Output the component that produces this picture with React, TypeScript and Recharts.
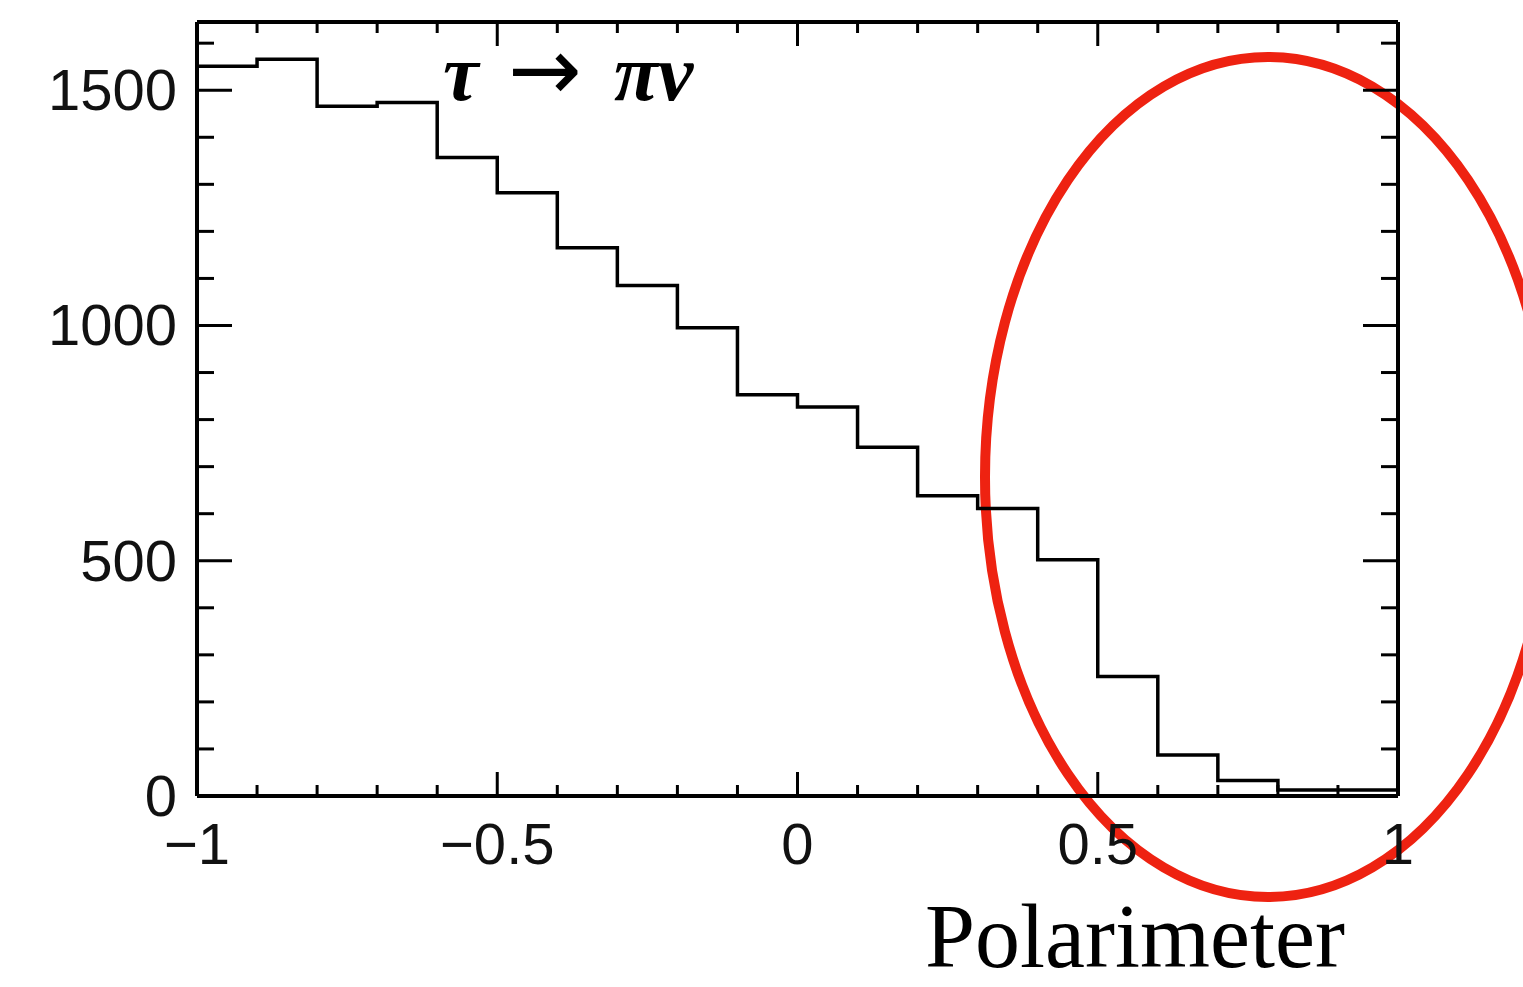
import React from 'react';
import { Customized, Line, LineChart, XAxis, YAxis } from 'recharts';

// histogram of cos(theta)-like variable, 20 bins of width 0.1
const binEdges = [-1, -0.9, -0.8, -0.7, -0.6, -0.5, -0.4, -0.3, -0.2, -0.1, 0, 0.1, 0.2, 0.3, 0.4, 0.5, 0.6, 0.7, 0.8, 0.9];
const counts = [1551, 1566, 1466, 1474, 1357, 1282, 1165, 1085, 995, 853, 827, 741, 638, 611, 502, 254, 87, 33, 13, 13];
const xEnd = 1;

const xAllTicks = [-1, -0.9, -0.8, -0.7, -0.6, -0.5, -0.4, -0.3, -0.2, -0.1, 0, 0.1, 0.2, 0.3, 0.4, 0.5, 0.6, 0.7, 0.8, 0.9, 1];
const xMajorTicks = [-1, -0.5, 0, 0.5, 1];
const yAllTicks = [0, 100, 200, 300, 400, 500, 600, 700, 800, 900, 1000, 1100, 1200, 1300, 1400, 1500, 1600];
const yMajorTicks = [0, 500, 1000, 1500];
const yMax = 1645;

const processLabel = ['τ ', '→ ', 'πν'];
const noteLabel = 'Polarimeter';

const histData = [
  ...binEdges.map((x, i) => ({ x, count: counts[i] })),
  { x: xEnd, count: counts[counts.length - 1] },
];

const sansFont = '"Liberation Sans", Arial, Helvetica, sans-serif';
const serifFont = '"Liberation Serif", "Times New Roman", serif';

function fmt(v: number) {
  return v < 0 ? `\u2212${Math.abs(v)}` : `${v}`;
}

const BottomTick = (props: any) => {
  const { x, y, payload } = props;
  const major = xMajorTicks.includes(payload.value);
  return (
    <g>
      <line x1={x} x2={x} y1={y} y2={y - (major ? 24 : 11)} stroke="#000" strokeWidth={3} />
      {major && (
        <text x={x} y={y + 68} textAnchor="middle" fontSize={58} fontFamily={sansFont} fill="#111">
          {fmt(payload.value)}
        </text>
      )}
    </g>
  );
};

const TopTick = (props: any) => {
  const { x, y, payload } = props;
  const major = xMajorTicks.includes(payload.value);
  return <line x1={x} x2={x} y1={y} y2={y + (major ? 24 : 11)} stroke="#000" strokeWidth={3} />;
};

const LeftTick = (props: any) => {
  const { x, y, payload } = props;
  const major = yMajorTicks.includes(payload.value);
  return (
    <g>
      <line x1={x} x2={x + (major ? 35 : 17)} y1={y} y2={y} stroke="#000" strokeWidth={3} />
      {major && (
        <text x={x - 20} y={y + 20} textAnchor="end" fontSize={58} fontFamily={sansFont} fill="#111">
          {fmt(payload.value)}
        </text>
      )}
    </g>
  );
};

const RightTick = (props: any) => {
  const { x, y, payload } = props;
  const major = yMajorTicks.includes(payload.value);
  return <line x1={x} x2={x - (major ? 35 : 17)} y1={y} y2={y} stroke="#000" strokeWidth={3} />;
};

const Annotations = () => (
  <g>
    <text y={100} fontFamily={serifFont} fontSize={80} fontWeight="bold" fontStyle="italic" fill="#000">
      <tspan x={443}>{processLabel[0]}</tspan>
      <tspan x={508} fontFamily='"DejaVu Sans", sans-serif' fontSize={88} fontStyle="normal" fontWeight="normal">
        {processLabel[1]}
      </tspan>
      <tspan x={614}>{processLabel[2]}</tspan>
    </text>
    <ellipse cx={1268} cy={477} rx={283} ry={420} fill="none" stroke="#EE2211" strokeWidth={10} />
    <text x={925} y={967} fontFamily={serifFont} fontSize={90} fill="#000">
      {noteLabel}
    </text>
  </g>
);

export default function App() {
  return (
    <div style={{ position: 'absolute', left: 0, top: 0, width: 1523, height: 987, background: '#fff' }}>
      <LineChart
        width={1523}
        height={987}
        data={histData}
        margin={{ top: 21, right: 124, bottom: 0, left: 0 }}
      >
        <XAxis
          dataKey="x"
          type="number"
          domain={[-1, 1]}
          ticks={xAllTicks}
          interval={0}
          height={191}
          tickSize={0}
          tickMargin={0}
          tickLine={false}
          axisLine={{ stroke: '#000', strokeWidth: 4 }}
          tick={<BottomTick />}
          allowDataOverflow
        />
        <XAxis
          xAxisId="top"
          orientation="top"
          dataKey="x"
          type="number"
          domain={[-1, 1]}
          ticks={xAllTicks}
          interval={0}
          height={1}
          tickSize={0}
          tickMargin={0}
          tickLine={false}
          axisLine={{ stroke: '#000', strokeWidth: 4 }}
          tick={<TopTick />}
          allowDataOverflow
        />
        <YAxis
          type="number"
          domain={[0, yMax]}
          ticks={yAllTicks}
          interval={0}
          width={197}
          tickSize={0}
          tickMargin={0}
          tickLine={false}
          axisLine={{ stroke: '#000', strokeWidth: 4 }}
          tick={<LeftTick />}
          allowDataOverflow
        />
        <YAxis
          yAxisId="right"
          orientation="right"
          type="number"
          domain={[0, yMax]}
          ticks={yAllTicks}
          interval={0}
          width={1}
          tickSize={0}
          tickMargin={0}
          tickLine={false}
          axisLine={{ stroke: '#000', strokeWidth: 4 }}
          tick={<RightTick />}
          allowDataOverflow
        />
        <Line
          dataKey="count"
          type="stepAfter"
          stroke="#000"
          strokeWidth={3.5}
          dot={false}
          activeDot={false}
          isAnimationActive={false}
        />
        <Customized component={Annotations} />
      </LineChart>
    </div>
  );
}
